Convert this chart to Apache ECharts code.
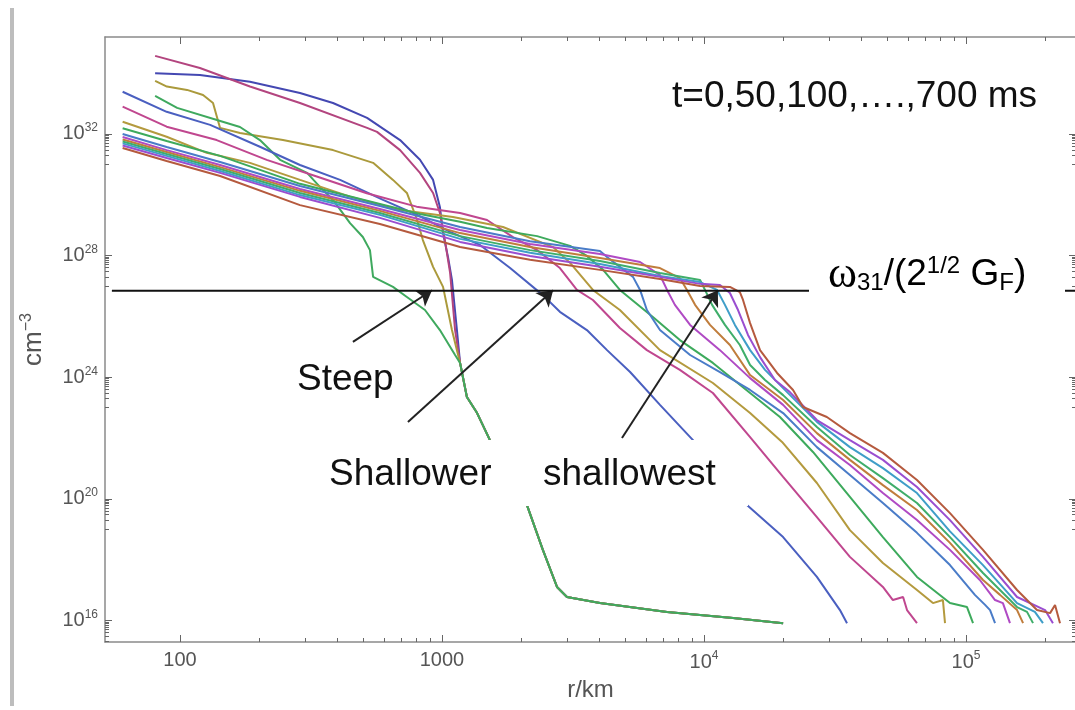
<!DOCTYPE html>
<html>
<head>
<meta charset="utf-8">
<title>density profiles</title>
<script src="https://cdn.jsdelivr.net/npm/echarts@6/dist/echarts.min.js"></script>
<style>
html, body { margin: 0; padding: 0; background: #fff; }
#chart { width: 1075px; height: 710px; }
</style>
</head>
<body>
<div id="chart"></div>
<script>
// every point is [log10(r / km), log10(n / cm^-3)]
const times = [0, 50, 100, 150, 200, 250, 300, 350, 400, 450, 500, 550, 600, 650, 700];

// the four early profiles share the steep drop and the flat tail
const steepTail = [[3.069,24.47],[3.095,23.35],[3.134,22.82],[3.183,21.93],[3.252,20.78],[3.324,19.80],[3.385,18.32],[3.439,17.10],[3.477,16.77],[3.603,16.57],[3.859,16.28],[4.111,16.08],[4.302,15.91]];
const t0Head = [[1.905,34.00],[2.076,33.94],[2.267,33.72],[2.458,33.35],[2.584,33.02],[2.714,32.53],[2.840,31.80],[2.916,31.15],[2.966,30.49],[2.992,29.60],[3.004,28.74],[3.023,27.95],[3.038,27.20],[3.057,25.55]];
const t50Head = [[1.905,34.57],[2.076,34.17],[2.267,33.56],[2.458,33.02],[2.714,32.20],[2.752,32.07],[2.840,31.47],[2.916,30.72],[2.966,30.06],[2.992,29.40],[3.011,28.51],[3.031,27.43],[3.050,25.55]];
const t100Head = [[1.905,33.75],[1.950,33.56],[2.027,33.45],[2.088,33.28],[2.126,33.02],[2.141,32.56],[2.153,32.20],[2.229,32.03],[2.393,31.80],[2.584,31.47],[2.737,31.05],[2.813,30.49],[2.866,30.06],[2.905,29.17],[2.927,28.51],[2.966,27.63],[3.004,26.97],[3.038,25.55]];
const t150Head = [[1.905,33.25],[1.989,32.86],[2.141,32.46],[2.229,32.23],[2.305,31.80],[2.382,31.15],[2.485,30.72],[2.534,30.26],[2.584,29.83],[2.649,29.07],[2.698,28.61],[2.725,28.18],[2.737,27.30],[2.813,26.97],[2.866,26.64],[2.935,26.21],[2.992,25.55],[3.050,24.73]];

const t200 = [[1.781,33.39],[1.949,32.73],[2.115,32.30],[2.305,31.58],[2.458,30.98],[2.611,30.49],[2.775,29.83],[2.905,29.34],[3.031,28.78],[3.145,28.35],[3.260,27.59],[3.385,26.70],[3.450,26.15],[3.553,25.55],[3.630,24.89],[3.718,24.17],[3.832,23.09],[3.958,21.93],[4.061,20.88],[4.164,19.80],[4.302,18.74],[4.431,17.43],[4.519,16.34],[4.546,15.91]];
const t250 = [[1.781,32.90],[1.949,32.24],[2.140,31.80],[2.331,31.15],[2.522,30.60],[2.713,30.05],[2.903,29.61],[3.069,29.40],[3.172,29.17],[3.271,28.61],[3.363,28.18],[3.450,27.59],[3.515,26.87],[3.576,26.54],[3.679,25.62],[3.782,24.89],[3.908,24.24],[4.034,23.48],[4.176,22.03],[4.302,20.72],[4.431,19.40],[4.557,18.09],[4.683,17.10],[4.721,16.67],[4.760,16.77],[4.775,16.34],[4.813,15.91]];
const t300 = [[1.781,32.40],[1.949,31.91],[2.102,31.38],[2.267,31.05],[2.458,30.49],[2.649,29.94],[2.840,29.50],[3.042,29.27],[3.233,28.94],[3.424,28.28],[3.489,27.76],[3.576,26.87],[3.679,26.21],[3.832,24.89],[4.034,23.81],[4.176,22.82],[4.298,21.87],[4.431,20.52],[4.557,18.97],[4.683,17.89],[4.813,17.00],[4.874,16.57],[4.912,16.67],[4.920,15.91]];
const t350 = [[1.781,32.19],[1.949,31.77],[2.153,31.28],[2.458,30.36],[2.763,29.70],[2.916,29.37],[3.069,29.11],[3.172,28.91],[3.363,28.64],[3.489,28.32],[3.553,27.99],[3.615,27.53],[3.679,26.87],[3.805,25.98],[3.908,25.22],[4.034,24.47],[4.176,23.48],[4.290,22.69],[4.416,21.54],[4.557,20.06],[4.683,18.74],[4.813,17.43],[4.939,16.57],[5.004,16.44],[5.027,15.91]];
const t400 = [[1.781,32.00],[1.949,31.57],[2.153,31.08],[2.458,30.29],[2.763,29.63],[3.069,28.94],[3.336,28.47],[3.603,28.15],[3.630,27.95],[3.729,27.30],[3.756,26.87],[3.782,26.21],[3.832,25.55],[3.947,24.73],[4.061,24.17],[4.176,23.58],[4.302,22.82],[4.431,21.70],[4.557,20.78],[4.683,19.86],[4.813,18.88],[4.939,17.82],[5.034,16.84],[5.073,16.51],[5.092,16.34],[5.111,15.91]];
const t450 = [[1.781,31.90],[1.949,31.47],[2.153,30.98],[2.458,30.19],[2.763,29.53],[3.069,28.84],[3.336,28.38],[3.603,28.05],[3.756,27.79],[3.832,27.36],[3.859,26.87],[3.889,26.38],[3.947,25.72],[4.061,24.89],[4.176,23.97],[4.302,23.09],[4.431,21.93],[4.557,21.11],[4.683,20.19],[4.813,19.30],[4.939,18.32],[5.053,17.33],[5.111,16.67],[5.141,16.57],[5.168,15.91]];
const t500 = [[1.781,31.82],[1.949,31.41],[2.153,30.91],[2.458,30.13],[2.763,29.47],[3.069,28.74],[3.336,28.28],[3.603,27.92],[3.832,27.59],[3.908,27.26],[3.935,26.87],[3.966,26.38],[4.023,25.72],[4.099,25.06],[4.176,24.07],[4.302,23.25],[4.431,22.16],[4.557,21.28],[4.683,20.45],[4.813,19.63],[4.939,18.55],[5.065,17.33],[5.130,16.84],[5.195,16.34],[5.218,15.91]];
const t550 = [[1.781,31.75],[1.949,31.34],[2.153,30.85],[2.458,30.06],[2.763,29.40],[3.069,28.64],[3.336,28.18],[3.603,27.82],[3.832,27.43],[3.985,27.20],[4.004,26.87],[4.031,26.38],[4.080,25.72],[4.137,25.06],[4.176,24.40],[4.233,23.91],[4.302,23.41],[4.431,22.36],[4.557,21.44],[4.683,20.68],[4.813,19.86],[4.939,18.74],[5.065,17.56],[5.195,16.44],[5.233,16.28],[5.256,15.91]];
const t600 = [[1.781,31.69],[1.949,31.28],[2.153,30.78],[2.458,29.99],[2.763,29.34],[3.069,28.55],[3.336,28.09],[3.603,27.72],[3.832,27.33],[3.985,27.13],[4.050,26.87],[4.080,26.38],[4.118,25.72],[4.176,24.89],[4.233,24.24],[4.302,23.64],[4.431,22.53],[4.557,21.70],[4.683,21.01],[4.813,20.19],[4.939,18.93],[5.065,17.82],[5.195,16.57],[5.263,16.28],[5.294,15.91]];
const t650 = [[1.781,31.62],[1.949,31.21],[2.153,30.72],[2.458,29.93],[2.763,29.24],[3.069,28.45],[3.336,27.99],[3.603,27.63],[3.832,27.30],[3.985,27.07],[4.061,27.03],[4.099,26.77],[4.130,26.21],[4.168,25.39],[4.214,24.66],[4.271,23.91],[4.328,23.51],[4.431,22.59],[4.557,21.93],[4.683,21.28],[4.813,20.39],[4.939,19.30],[5.065,18.09],[5.195,16.77],[5.302,16.34],[5.332,15.91]];
const t700 = [[1.781,31.54],[1.949,31.11],[2.153,30.62],[2.458,29.66],[2.763,29.04],[3.069,28.28],[3.336,27.86],[3.603,27.53],[3.832,27.23],[3.985,27.00],[4.099,26.97],[4.137,26.80],[4.149,26.54],[4.176,25.78],[4.214,24.89],[4.279,24.14],[4.340,23.58],[4.378,23.02],[4.469,22.69],[4.557,22.16],[4.683,21.51],[4.813,20.62],[4.939,19.53],[5.065,18.32],[5.195,17.00],[5.271,16.34],[5.321,16.24],[5.340,16.51],[5.359,15.91]];

// resonance density omega31/(sqrt2 GF) and the three arrows pointing at it
const resonanceLevel = 26.84;
const resonanceSpan = [1.740, 5.42];
const arrows = [
    [[2.660, 25.16], [2.962, 26.86]],
    [[2.870, 22.53], [3.424, 26.86]],
    [[3.687, 22.00], [4.053, 26.86]]
];

// axis extents and tick exponents
const xRange = [1.7137, 5.42];
const yRange = [15.29, 35.19];
const xMajor = [2, 3, 4, 5];
const yMajor = [16, 20, 24, 28, 32];

const curves = [
    t0Head.concat(steepTail), t50Head.concat(steepTail),
    t100Head.concat(steepTail), t150Head.concat(steepTail),
    t200, t250, t300, t350, t400, t450, t500, t550, t600, t650, t700
];
const colors = ['#4448b2', '#b3457f', '#ab9a3c', '#3fa95e', '#4a5fc0', '#c0478f', '#b49a3e', '#3daa5c',
    '#4a7cc8', '#b04ac4', '#c07d3c', '#3fae6a', '#3f9ec8', '#9a4ed0', '#b55a3e'];

// minor ticks: 2..9 times each decade on x, the decade below each labelled power on y
const xMinor = [];
for (let d = 2; d <= 5; d++) {
    for (let k = 2; k <= 9; k++) {
        const v = d + Math.log10(k);
        if (v < xRange[1]) xMinor.push(v);
    }
}
const yMinor = [];
yMajor.forEach(function (e) {
    for (let k = 1; k <= 9; k++) yMinor.push(e - 1 + Math.log10(k));
});

const FONT = '"Liberation Sans", Arial, sans-serif';
const labelRich = {
    b: { fontSize: 20, color: '#555', fontFamily: FONT },
    s: { fontSize: 12, color: '#555', fontFamily: FONT, padding: [0, 0, 12, 0] }
};

function xFmt(v) {
    const e = Math.round(v);
    if (e === 2) return '{b|100}';
    if (e === 3) return '{b|1000}';
    return '{b|10}{s|' + e + '}';
}
function yFmt(v) {
    return '{b|10}{s|' + Math.round(v) + '}';
}

function axis(kind, pos, ticks, len, withLine, withLabel) {
    const range = kind === 'x' ? xRange : yRange;
    const a = {
        type: 'value',
        position: pos,
        min: range[0],
        max: range[1],
        splitLine: { show: false },
        axisLine: { show: withLine, onZero: false, lineStyle: { color: '#8a8a8a', width: 1.5 } },
        axisTick: { show: true, inside: true, length: len, customValues: ticks, lineStyle: { color: '#666', width: 1 } },
        axisLabel: { show: false }
    };
    if (withLabel) {
        a.axisLabel = {
            show: true,
            customValues: ticks,
            formatter: kind === 'x' ? xFmt : yFmt,
            margin: kind === 'x' ? 8 : 7,
            rich: labelRich
        };
    }
    return a;
}

const xAxes = [
    axis('x', 'bottom', xMajor, 7, true, true),
    axis('x', 'bottom', xMinor, 4, false, false),
    axis('x', 'top', xMajor, 7, true, false),
    axis('x', 'top', xMinor, 4, false, false)
];
xAxes[0].name = 'r/km';
xAxes[0].nameLocation = 'middle';
xAxes[0].nameGap = 36;
xAxes[0].nameTextStyle = { fontSize: 24, color: '#555', fontFamily: FONT };

const yAxes = [
    axis('y', 'left', yMajor, 7, true, true),
    axis('y', 'left', yMinor, 4, false, false),
    axis('y', 'right', yMajor, 7, true, false),
    axis('y', 'right', yMinor, 4, false, false)
];
yAxes[0].name = '{b|cm}{s|−3}';
yAxes[0].nameLocation = 'middle';
yAxes[0].nameGap = 56;
yAxes[0].nameRotate = 90;
yAxes[0].nameTextStyle = {
    rich: {
        b: { fontSize: 26, color: '#555', fontFamily: FONT },
        s: { fontSize: 16, color: '#555', fontFamily: FONT, padding: [0, 0, 14, 0] }
    }
};

const series = curves.map(function (pts, i) {
    return {
        name: 't=' + times[i] + ' ms',
        type: 'line',
        data: pts,
        showSymbol: false,
        symbol: 'none',
        lineStyle: { color: colors[i], width: 2 },
        itemStyle: { color: colors[i] },
        z: 2 + i * 0.01
    };
});
series.push({
    name: 'resonance',
    type: 'line',
    data: resonanceSpan.map(function (x) { return [x, resonanceLevel]; }),
    showSymbol: false,
    symbol: 'none',
    lineStyle: { color: '#111', width: 2 },
    z: 5,
    markLine: {
        silent: true,
        symbol: ['none', 'arrow'],
        symbolSize: 15,
        label: { show: false },
        lineStyle: { color: '#222', width: 2, type: 'solid' },
        data: arrows.map(function (a) {
            return [{ coord: a[0] }, { coord: a[1] }];
        })
    }
});

const chart = echarts.init(document.getElementById('chart'), null, { renderer: 'canvas' });
chart.setOption({
    animation: false,
    backgroundColor: '#fff',
    grid: { left: 105, top: 37, right: -1, bottom: 68, containLabel: false, outerBoundsMode: 'none' },
    xAxis: xAxes,
    yAxis: yAxes,
    series: series,
    graphic: [
        { type: 'rect', z: 100, shape: { x: 10, y: 8, width: 4, height: 698 }, style: { fill: '#bdbdbd' } },
        { type: 'rect', z: 100, shape: { x: 300, y: 440, width: 448, height: 66 }, style: { fill: '#fff' } },
        { type: 'rect', z: 100, shape: { x: 809, y: 252, width: 256, height: 48 }, style: { fill: '#fff' } },
        { type: 'text', z: 101, x: 672, y: 97, style: { text: 't=0,50,100,….,700 ms', font: '37px ' + FONT, fill: '#111', verticalAlign: 'middle' } },
        { type: 'text', z: 101, x: 297, y: 380, style: { text: 'Steep', font: '37px ' + FONT, fill: '#111', verticalAlign: 'middle' } },
        { type: 'text', z: 101, x: 329, y: 475, style: { text: 'Shallower', font: '37px ' + FONT, fill: '#111', verticalAlign: 'middle' } },
        { type: 'text', z: 101, x: 543, y: 475, style: { text: 'shallowest', font: '37px ' + FONT, fill: '#111', verticalAlign: 'middle' } },
        {
            type: 'text', z: 101, x: 828, y: 275,
            style: {
                text: '{w|ω}{sub|31}{n|/(2}{sup|1/2}{n| G}{sub|F}{n|)}',
                verticalAlign: 'middle',
                rich: {
                    w: { fontSize: 44, fontFamily: '"Liberation Serif", serif', color: '#585b6b' },
                    n: { fontSize: 37, fontFamily: FONT, color: '#585b6b' },
                    sub: { fontSize: 24, fontFamily: FONT, color: '#585b6b', padding: [17, 0, 0, 0] },
                    sup: { fontSize: 24, fontFamily: FONT, color: '#585b6b', padding: [0, 0, 17, 0] }
                }
            }
        }
    ]
});
window.addEventListener('resize', function () {
    chart.resize();
});
</script>
</body>
</html>
